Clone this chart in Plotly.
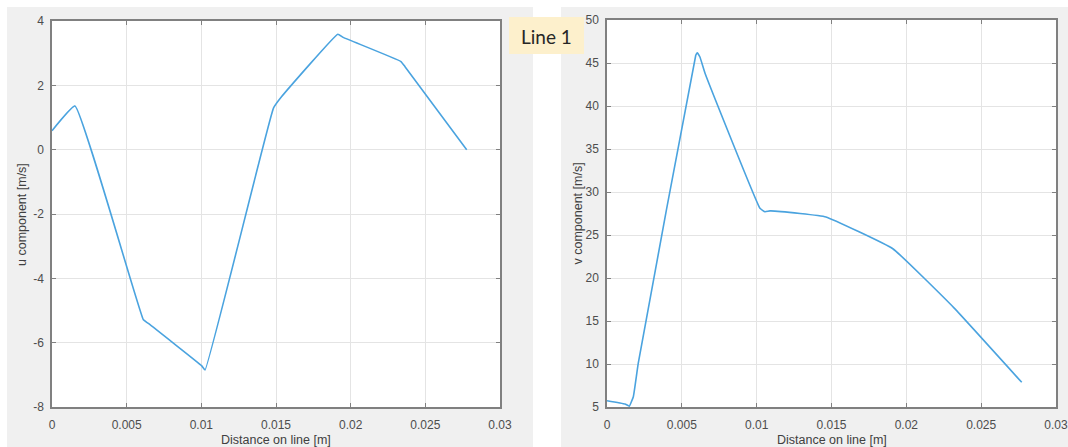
import plotly.graph_objects as go

W, H = 1068, 447

# ---- data ----
u_x = [0.0, 0.00154, 0.00612, 0.00645, 0.01003, 0.01025, 0.01483, 0.01538, 0.01914, 0.0195, 0.02337, 0.02364, 0.02777]
u_y = [0.59, 1.36, -5.29, -5.40, -6.72, -6.85, 1.29, 1.65, 3.59, 3.49, 2.74, 2.58, 0.0]

v_x = [0.0, 0.0012, 0.00149, 0.00176, 0.00209, 0.00593, 0.00603, 0.00621, 0.00655, 0.01022, 0.01056, 0.01089, 0.0129, 0.01463, 0.0191, 0.0232, 0.02771]
v_y = [5.73, 5.35, 5.10, 6.2, 10.1, 45.9, 46.2, 45.7, 43.8, 28.1, 27.7, 27.8, 27.5, 27.1, 23.4, 16.5, 7.87]

x_ticks = [0, 0.005, 0.01, 0.015, 0.02, 0.025, 0.03]
x_labels = ["0", "0.005", "0.01", "0.015", "0.02", "0.025", "0.03"]
u_ticks = [-8, -6, -4, -2, 0, 2, 4]
u_labels = ["-8", "-6", "-4", "-2", "0", "2", "4"]
v_ticks = [5, 10, 15, 20, 25, 30, 35, 40, 45, 50]
v_labels = [str(t) for t in v_ticks]

x_title = "Distance on line [m]"
u_title = "u component [m/s]"
v_title = "v component [m/s]"
box_text = "Line 1"

# ---- layout helpers (pixels -> paper) ----
def px(x):
    return x / W

def py(y):
    return 1 - y / H

L_AX = (52, 500, 21, 407)
R_AX = (607, 1056, 20, 407)

line_color = "#4aa3df"
axis_color = "#808080"
grid_color = "#e4e4e4"
tick_font = dict(family="Liberation Sans, Arial, sans-serif", size=12, color="#4d4d4d")
title_font = dict(family="Liberation Sans, Arial, sans-serif", size=12.5, color="#404040")

fig = go.Figure()
fig.add_trace(go.Scatter(x=u_x, y=u_y, mode="lines",
                         line=dict(color=line_color, width=1.6, shape="spline", smoothing=0.3),
                         xaxis="x", yaxis="y", showlegend=False, hoverinfo="skip"))
fig.add_trace(go.Scatter(x=v_x, y=v_y, mode="lines",
                         line=dict(color=line_color, width=1.6, shape="spline", smoothing=0.3),
                         xaxis="x2", yaxis="y2", showlegend=False, hoverinfo="skip"))

def axis_common():
    return dict(showline=True, mirror="ticks", linecolor=axis_color, linewidth=1.5,
                ticks="inside", ticklen=4, tickcolor=axis_color, tickwidth=1,
                showgrid=True, gridcolor=grid_color, gridwidth=1, zeroline=False,
                tickfont=tick_font, fixedrange=True, automargin=False,
                ticklabeloverflow="allow")

xa = axis_common()
xa.update(range=[0, 0.03], tickvals=x_ticks, ticktext=x_labels, domain=[px(L_AX[0]), px(L_AX[1])],
          anchor="y", ticklabelstandoff=6)
ya = axis_common()
ya.update(range=[-8, 4], tickvals=u_ticks, ticktext=u_labels, domain=[py(L_AX[3]), py(L_AX[2])],
          anchor="x", ticklabelstandoff=4)
xa2 = axis_common()
xa2.update(range=[0, 0.03], tickvals=x_ticks, ticktext=x_labels, domain=[px(R_AX[0]), px(R_AX[1])],
           anchor="y2", ticklabelstandoff=6)
ya2 = axis_common()
ya2.update(range=[5, 50], tickvals=v_ticks, ticktext=v_labels, domain=[py(R_AX[3]), py(R_AX[2])],
           anchor="x2", ticklabelstandoff=4)

shapes = [
    dict(type="rect", xref="paper", yref="paper", x0=px(7), x1=px(533), y0=py(447), y1=py(7),
         fillcolor="#f0f0f0", line=dict(width=0), layer="below"),
    dict(type="rect", xref="paper", yref="paper", x0=px(561), x1=px(1068), y0=py(447), y1=py(7),
         fillcolor="#f0f0f0", line=dict(width=0), layer="below"),
    dict(type="rect", xref="paper", yref="paper", x0=px(L_AX[0]), x1=px(L_AX[1]), y0=py(L_AX[3]), y1=py(L_AX[2]),
         fillcolor="white", line=dict(width=0), layer="below"),
    dict(type="rect", xref="paper", yref="paper", x0=px(R_AX[0]), x1=px(R_AX[1]), y0=py(R_AX[3]), y1=py(R_AX[2]),
         fillcolor="white", line=dict(width=0), layer="below"),
    dict(type="rect", xref="paper", yref="paper", x0=px(509), x1=px(584), y0=py(54), y1=py(17),
         fillcolor="#fdf0cc", line=dict(width=0), layer="above"),
]

annotations = [
    dict(text=x_title, xref="paper", yref="paper", x=px((L_AX[0] + L_AX[1]) / 2), y=py(440),
         xanchor="center", yanchor="middle", showarrow=False, font=title_font),
    dict(text=x_title, xref="paper", yref="paper", x=px((R_AX[0] + R_AX[1]) / 2), y=py(440),
         xanchor="center", yanchor="middle", showarrow=False, font=title_font),
    dict(text=u_title, xref="paper", yref="paper", x=px(22), y=py((L_AX[2] + L_AX[3]) / 2),
         xanchor="center", yanchor="middle", textangle=-90, showarrow=False, font=title_font),
    dict(text=v_title, xref="paper", yref="paper", x=px(577), y=py((R_AX[2] + R_AX[3]) / 2),
         xanchor="center", yanchor="middle", textangle=-90, showarrow=False, font=title_font),
    dict(text=box_text, xref="paper", yref="paper", x=px(546.5), y=py(36),
         xanchor="center", yanchor="middle", showarrow=False,
         font=dict(family="Lato, Open Sans, sans-serif", size=19, color="#262626")),
]

fig.update_layout(
    width=W, height=H, margin=dict(l=0, r=0, t=0, b=0, autoexpand=False),
    paper_bgcolor="white", plot_bgcolor="rgba(0,0,0,0)",
    xaxis=xa, yaxis=ya, xaxis2=xa2, yaxis2=ya2,
    shapes=shapes, annotations=annotations, showlegend=False,
)

fig.write_html(
    "out.html",
    config={"displayModeBar": False},
    post_script="document.documentElement.style.margin='0';document.documentElement.style.padding='0';"
                "document.body.style.margin='0';document.body.style.padding='0';"
                "document.body.style.overflow='hidden';",
)
